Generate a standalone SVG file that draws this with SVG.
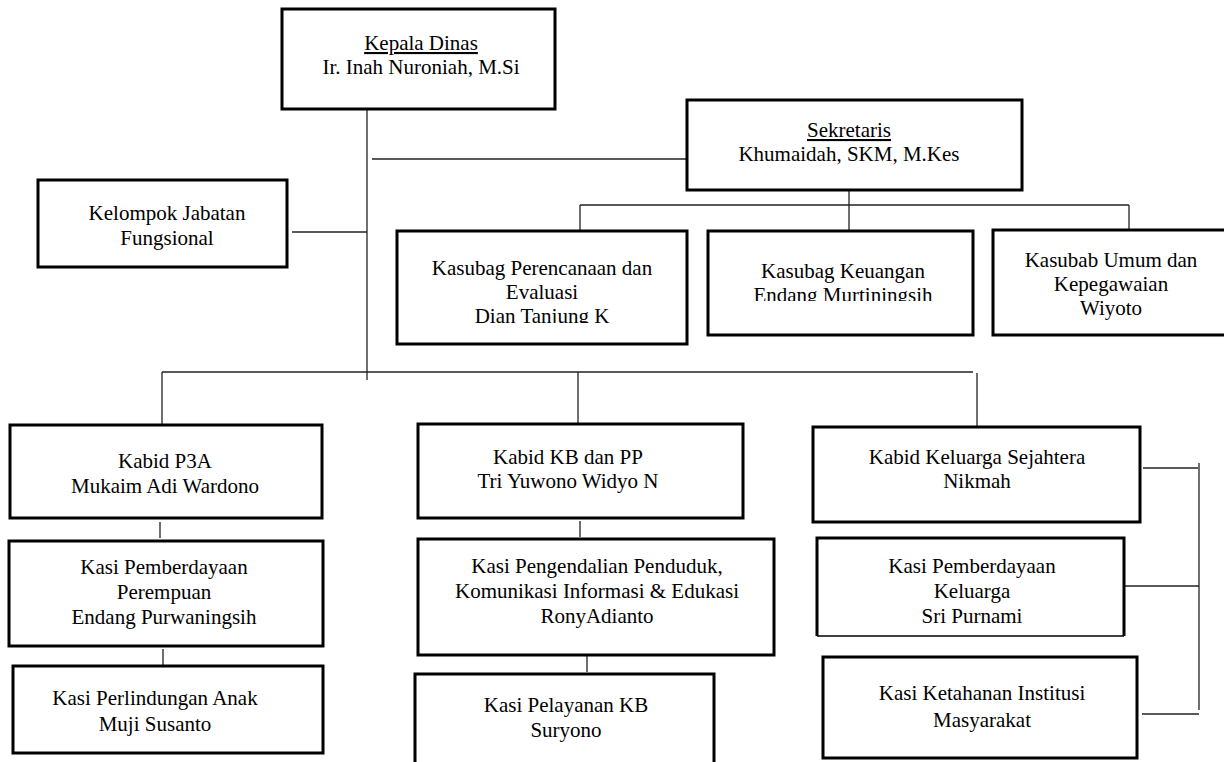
<svg xmlns="http://www.w3.org/2000/svg" width="1224" height="762" viewBox="0 0 1224 762">
<style>
.box{fill:#fff;stroke:#000;stroke-width:3}
.c{stroke:#222;stroke-width:1.3;fill:none}
text{font-family:"Liberation Serif","Times New Roman",serif;font-size:21px;fill:#000;text-anchor:middle}
</style>
<defs>
<clipPath id="clipPer"><rect x="397" y="231" width="290" height="92"/></clipPath>
<clipPath id="clipKeu"><rect x="708" y="231" width="265" height="70"/></clipPath>
</defs>
<rect width="1224" height="762" fill="#fff"/>
<g id="connectors">
<line class="c" x1="367" y1="109" x2="367" y2="380"/>
<line class="c" x1="372" y1="159" x2="687" y2="159"/>
<line class="c" x1="292" y1="232" x2="367" y2="232"/>
<line class="c" x1="849" y1="190" x2="849" y2="237"/>
<line class="c" x1="580" y1="205" x2="1129" y2="205"/>
<line class="c" x1="580" y1="205" x2="580" y2="237"/>
<line class="c" x1="1129" y1="205" x2="1129" y2="235"/>
<line class="c" x1="162" y1="372" x2="973" y2="372"/>
<line class="c" x1="162" y1="372" x2="162" y2="425"/>
<line class="c" x1="578" y1="372" x2="578" y2="424"/>
<line class="c" x1="977" y1="373" x2="977" y2="431"/>
<line class="c" x1="160" y1="522" x2="160" y2="538"/>
<line class="c" x1="163" y1="649" x2="163" y2="665"/>
<line class="c" x1="580" y1="521" x2="580" y2="537"/>
<line class="c" x1="587" y1="656" x2="587" y2="672"/>
<line class="c" x1="1143" y1="468" x2="1198" y2="468"/>
<line class="c" x1="1199" y1="463" x2="1199" y2="710"/>
<line class="c" x1="1125" y1="586" x2="1199" y2="586"/>
<line class="c" x1="1142" y1="714" x2="1199" y2="714"/>
</g>
<g id="kepala">
<rect class="box" x="282" y="9" width="273" height="100"/>
<text x="421" y="50" text-decoration="underline">Kepala Dinas</text>
<text x="421" y="74">Ir. Inah Nuroniah, M.Si</text>
</g>
<g id="sekretaris">
<rect class="box" x="687" y="100" width="335" height="90"/>
<text x="849" y="137" text-decoration="underline">Sekretaris</text>
<text x="849" y="161">Khumaidah, SKM, M.Kes</text>
</g>
<g id="fungsional">
<rect class="box" x="38" y="180" width="249" height="87"/>
<text x="167" y="220">Kelompok Jabatan</text>
<text x="167" y="245">Fungsional</text>
</g>
<g id="perencanaan">
<rect class="box" x="397" y="231" width="290" height="113"/>
<g clip-path="url(#clipPer)">
<text x="542" y="275">Kasubag Perencanaan dan</text>
<text x="542" y="299">Evaluasi</text>
<text x="542" y="323">Dian Tanjung K</text>
</g>
</g>
<g id="keuangan">
<rect class="box" x="708" y="231" width="265" height="104"/>
<g clip-path="url(#clipKeu)">
<text x="843" y="278">Kasubag Keuangan</text>
<text x="843" y="302">Endang Murtiningsih</text>
</g>
</g>
<g id="umum">
<rect class="box" x="993" y="230" width="234" height="105"/>
<text x="1111" y="267">Kasubab Umum dan</text>
<text x="1111" y="291">Kepegawaian</text>
<text x="1111" y="315">Wiyoto</text>
</g>
<g id="kabid-p3a">
<rect class="box" x="10" y="425" width="312" height="93"/>
<text x="165" y="468">Kabid P3A</text>
<text x="165" y="493">Mukaim Adi Wardono</text>
</g>
<g id="kasi-perempuan">
<rect class="box" x="9" y="541" width="314" height="105"/>
<text x="164" y="574">Kasi Pemberdayaan</text>
<text x="164" y="599">Perempuan</text>
<text x="164" y="624">Endang Purwaningsih</text>
</g>
<g id="kasi-anak">
<rect class="box" x="13" y="666" width="310" height="87"/>
<text x="155" y="705">Kasi Perlindungan Anak</text>
<text x="155" y="731">Muji Susanto</text>
</g>
<g id="kabid-kb">
<rect class="box" x="418" y="424" width="325" height="94"/>
<text x="568" y="464">Kabid KB dan PP</text>
<text x="568" y="488">Tri Yuwono Widyo N</text>
</g>
<g id="kasi-pengendalian">
<rect class="box" x="418" y="539" width="356" height="116"/>
<text x="597" y="573">Kasi Pengendalian Penduduk,</text>
<text x="597" y="598">Komunikasi Informasi &amp; Edukasi</text>
<text x="597" y="623">RonyAdianto</text>
</g>
<g id="kasi-pelayanan">
<rect class="box" x="415" y="674" width="299" height="100"/>
<text x="566" y="712">Kasi Pelayanan KB</text>
<text x="566" y="737">Suryono</text>
</g>
<g id="kabid-ks">
<rect class="box" x="813" y="427" width="327" height="95"/>
<text x="977" y="464">Kabid Keluarga Sejahtera</text>
<text x="977" y="488">Nikmah</text>
</g>
<g id="kasi-keluarga">
<path d="M817,636 V538 H1124 V636" fill="#fff" stroke="#000" stroke-width="3"/>
<line x1="817" y1="636" x2="1124" y2="636" stroke="#000" stroke-width="1.3"/>
<text x="972" y="573">Kasi Pemberdayaan</text>
<text x="972" y="598">Keluarga</text>
<text x="972" y="623">Sri Purnami</text>
</g>
<g id="kasi-ketahanan">
<rect class="box" x="823" y="657" width="314" height="101"/>
<text x="982" y="700">Kasi Ketahanan Institusi</text>
<text x="982" y="727">Masyarakat</text>
</g>
</svg>
